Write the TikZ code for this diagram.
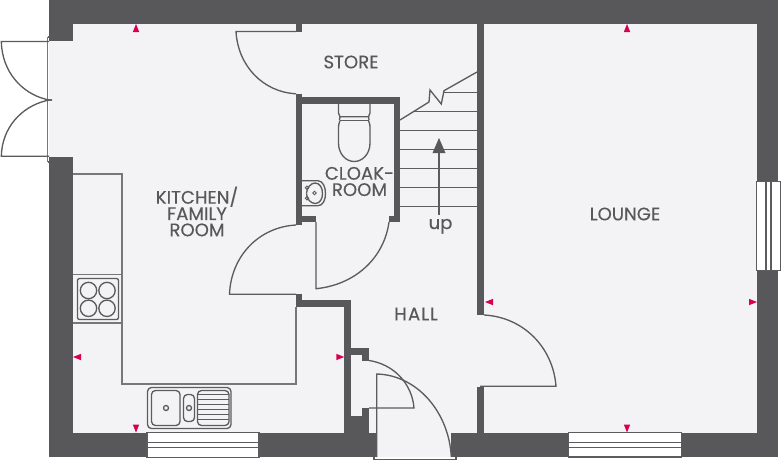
\documentclass[tikz,border=0pt]{standalone}
\usepackage{fontspec}
\setmainfont[FakeBold=0.25]{Poppins}
\definecolor{wallc}{HTML}{58585A}
\definecolor{floorc}{HTML}{F3F3F6}
\definecolor{linec}{HTML}{5C5C5E}
\definecolor{unitc}{HTML}{77777A}
\definecolor{markc}{HTML}{D6004F}
\tikzset{
 wall/.style={fill=wallc,draw=none},
 thin line/.style={draw=linec,line width=1pt},
 unit line/.style={draw=unitc,line width=1pt},
 pane/.style={draw=linec,fill=white,line width=1pt},
 lbl/.style={text=wallc,font=\fontsize{13.6}{12.2}\selectfont,align=center,inner sep=0pt},
 redtip/.style={fill=markc,draw=none}
}
\begin{document}
\begin{tikzpicture}[x=0.75pt,y=-0.75pt]
\useasboundingbox (0,0) rectangle (782,461);
\fill[white] (0,0) rectangle (782,461);
% floor
\fill[floorc] (49,23) rectangle (757,433);
\fill[floorc] (377,433) rectangle (451,457);
% outer walls
\fill[wall] (49,0) rectangle (778,23.5);
\fill[wall] (49,0) rectangle (73,41);
\fill[wall] (49,157) rectangle (73,456.5);
\fill[wall] (757,0) rectangle (778,456);
\fill[wall] (49,432.7) rectangle (147,456.5);
\fill[wall] (259,432.7) rectangle (376.7,456.5);
\fill[wall] (451.3,432.7) rectangle (778,456.5);
% partition walls
\fill[wall] (476.7,23) rectangle (484,315);
\fill[wall] (476.7,386.7) rectangle (484,433);
\fill[wall] (296,23) rectangle (302.3,31.8);
\fill[wall] (296,94) rectangle (302.3,225);
\fill[wall] (296,96.8) rectangle (400,104);
\fill[wall] (394,96.8) rectangle (400,222);
\fill[wall] (296,216) rectangle (316,222);
\fill[wall] (389,215.5) rectangle (400,222);
\fill[wall] (296,294) rectangle (302.3,307);
\fill[wall] (296,300.3) rectangle (351,307);
\fill[wall] (344.3,300.3) rectangle (351,433);
\fill[wall] (351,348) rectangle (369,355);
\fill[wall] (361.7,348) rectangle (369,361);
\fill[wall] (344.3,416) rectangle (369,433);
\fill[wall] (361.7,408) rectangle (369,433);
% kitchen units
\draw[unit line] (73,174) -- (122,174) -- (122,384) -- (296,384) -- (296,307);
\draw[unit line] (73,274.5) -- (122,274.5);
\draw[unit line] (73,323) -- (122,323);
% hob
\draw[thin line,rounded corners=1.5pt] (77.5,278.5) rectangle (118.5,319.5);
\foreach \cx/\cy in {88.5/290.5,107/290.5,88.5/308.3,107/308.3}
  \draw[thin line] (\cx,\cy) circle[radius=8.2];
% sink
\draw[thin line,rounded corners=3pt] (147.5,387.5) rectangle (231,428.5);
\draw[thin line,rounded corners=3pt] (151.5,390.5) rectangle (180,425.5);
\draw[thin line,rounded corners=3pt] (183.5,394.5) rectangle (194.5,421.5);
\draw[thin line,rounded corners=3pt] (197.5,390.5) rectangle (229,425.5);
\draw[thin line] (166,408) circle[radius=2.5];
\draw[thin line] (189,408) circle[radius=2.5];
\foreach \yy in {394.5,399.5,404.5,409.5,414.5,419.5}
  \draw[thin line] (198,\yy) -- (228.5,\yy);
% windows
\draw[pane] (147,432.7) rectangle (259,457.5);
\draw[pane] (147,442.3) rectangle (259,447.7);
\draw[pane] (568.7,432.7) rectangle (681.3,457);
\draw[pane] (568.7,442.3) rectangle (681.3,447.7);
\draw[pane] (756.7,181.3) rectangle (780.7,270.7);
\draw[pane] (766,181.3) rectangle (771,270.7);
% french doors
\draw[unit line] (47.5,37) -- (47.5,162);
\draw[thin line] (48,37) -- (49.5,37) (48,162) -- (49.5,162);
\draw[thin line] (52,100) .. controls (48,100) and (46,99.5) .. (45,99)
  .. controls (22,93) and (2,72) .. (1.3,41.5) -- (49,41.5);
\draw[thin line] (52,100) .. controls (48,100) and (46,100.5) .. (45,101)
  .. controls (22,107) and (2,127) .. (1.3,156.3) -- (49,156.3);
% interior doors
\draw[thin line] (296,31.5) -- (236,31.5) .. controls (238,66) and (263,92) .. (296,93.8);
\draw[thin line] (296,294.2) -- (229.5,294.2) .. controls (231,256) and (259,227) .. (296,225);
\draw[thin line] (316,222) -- (316,288.7) .. controls (354,285) and (384,259) .. (389,222);
\draw[thin line] (484,315) .. controls (523,317) and (553,347) .. (556,386.2) -- (480,386.2);
\draw[thin line] (369,360.5) .. controls (393,364) and (412,383) .. (414,408) -- (369,408);
\draw[thin line] (376.7,457) -- (376.7,374) .. controls (417,375) and (449,412) .. (451.3,457);
\draw[thin line] (374,457) -- (374,459.5) -- (456,459.5) -- (456,457);
% stairs
\foreach \yy in {130.7,149.7,168.7,187.3,206.4}
  \draw[thin line] (400,\yy) -- (477,\yy);
\draw[thin line] (413,111.7) -- (477,111.7);
\draw[thin line] (444,92.7) -- (477,92.7);
\draw[thin line] (400,120) -- (429,102) -- (430,90) -- (441.3,104) -- (444,90.7) -- (477,72);
\coordinate (upfoot) at (439,215);
\coordinate (uphead) at (439,152);
\draw[thin line] (upfoot) -- (uphead);
\fill[wallc] (439,138) -- (445.5,153) -- (432.5,153) -- cycle;
% WC
\draw[thin line] (338.5,104) -- (338.5,113) .. controls (338.5,115) and (339,115.5) .. (340,116.7) -- (368.5,116.7)
  .. controls (369.5,115.5) and (370,115) .. (370,113) -- (370,104);
\draw[thin line] (340,116.7) -- (339.5,120) (368.5,116.7) -- (369,120);
\draw[thin line] (339.5,120.5) -- (369,120.5);
\draw[thin line] (340,120.5) .. controls (338.5,123) and (338.5,126) .. (338.5,130) -- (338.5,143)
  .. controls (338.5,154) and (346,161.5) .. (354.2,161.5)
  .. controls (362.5,161.5) and (370,154) .. (370,143) -- (370,130)
  .. controls (370,126) and (370,123) .. (368.5,120.5);
% basin
\draw[thin line] (302,180.7) -- (318,180.7) .. controls (323,181) and (325.5,187) .. (325.5,193.5)
  .. controls (325.5,200) and (323,205.5) .. (318,205.7) -- (302,205.7);
\draw[thin line] (315,183) .. controls (320,183) and (322.5,188) .. (322.5,193.5)
  .. controls (322.5,199) and (320,203.5) .. (315,203.5)
  .. controls (311,203.5) and (306.5,199) .. (306.5,193.5);
\draw[thin line] (306.5,193.5) .. controls (306.5,188) and (311,183) .. (315,183);
\draw[line width=.7pt,draw=linec] (307,187.7) circle[radius=1.7] (307,198.3) circle[radius=1.7] (314.5,193) circle[radius=1.7];
% markers
\fill[redtip] (136,24) -- (139.2,32) -- (132.8,32) -- cycle;
\fill[redtip] (627,24) -- (630.2,32) -- (623.8,32) -- cycle;
\fill[redtip] (136,432.5) -- (139.2,424.5) -- (132.8,424.5) -- cycle;
\fill[redtip] (627,432.5) -- (630.2,424.5) -- (623.8,424.5) -- cycle;
\fill[redtip] (73,357) -- (81,353.8) -- (81,360.2) -- cycle;
\fill[redtip] (344.3,357) -- (336.3,353.8) -- (336.3,360.2) -- cycle;
\fill[redtip] (485,302) -- (493,298.8) -- (493,305.2) -- cycle;
\fill[redtip] (757,302) -- (749,298.8) -- (749,305.2) -- cycle;
% labels
\node[lbl] (store) at (351,62) {STORE};
\node[lbl] (kitchen) at (197,211.5) {KITCHEN/\\FAMILY\\ROOM};
\node[lbl] (cloak) at (359.5,181.5) {CLOAK-\\ROOM};
\node[lbl] (hall) at (416,314) {H\kern1pt A\kern.8pt L\kern.6pt L};
\node[lbl] (lounge) at (625,214) {LOUNGE};
\node[lbl,anchor=base] (upl) at (440.5,229) {up};
\end{tikzpicture}
\end{document}
